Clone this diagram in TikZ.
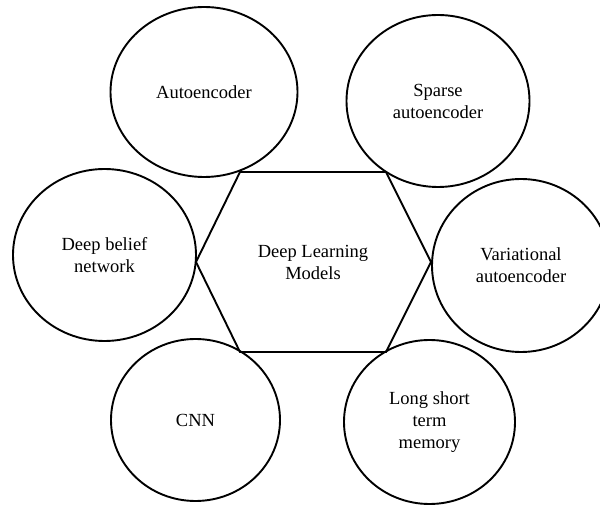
\documentclass[tikz,border=0pt]{standalone}
\usepackage{fontspec}
\setmainfont{Liberation Serif}
\usetikzlibrary{shapes.geometric}

\tikzset{
	model/.style={draw, ellipse, line width=1.9pt, inner sep=0pt, align=center},
	hexline/.style={line width=1.9pt, line join=miter}
}

\begin{document}
\begin{tikzpicture}[x=1pt, y=-1pt, font=\rmfamily\fontsize{18.5}{22}\selectfont]
		\useasboundingbox (0,0) rectangle (600,510);
		% hexagon in the middle
		\coordinate (tl) at (240,172);
		\coordinate (tr) at (386,172);
		\coordinate (r) at (431,262);
		\coordinate (br) at (386,352);
		\coordinate (bl) at (240,352);
		\coordinate (l) at (196,262);
		\draw[hexline] (tl) -- (tr) -- (r) -- (br) -- (bl) -- (l) -- cycle;
		\draw (313,262) node [align=center] (core) {Deep Learning\\Models};
		% the six models round it
		\draw (204,92) node [model, minimum width=187pt, minimum height=170pt] (auto) {Autoencoder};
		\draw (438,101) node [model, minimum width=183pt, minimum height=172pt] (sparse) {Sparse\\autoencoder};
		\draw (104.5,255) node [model, minimum width=183pt, minimum height=172pt] (dbn) {Deep belief\\network};
		\draw (521,265.5) node [model, minimum width=178pt, minimum height=173pt] (vae) {Variational\\autoencoder};
		\draw (195.5,420) node [model, minimum width=169pt, minimum height=162pt] (cnn) {CNN};
		\draw (429.5,422) node [model, minimum width=171pt, minimum height=164pt] (lstm) {Long short\\term\\memory};
	\end{tikzpicture}
\end{document}
